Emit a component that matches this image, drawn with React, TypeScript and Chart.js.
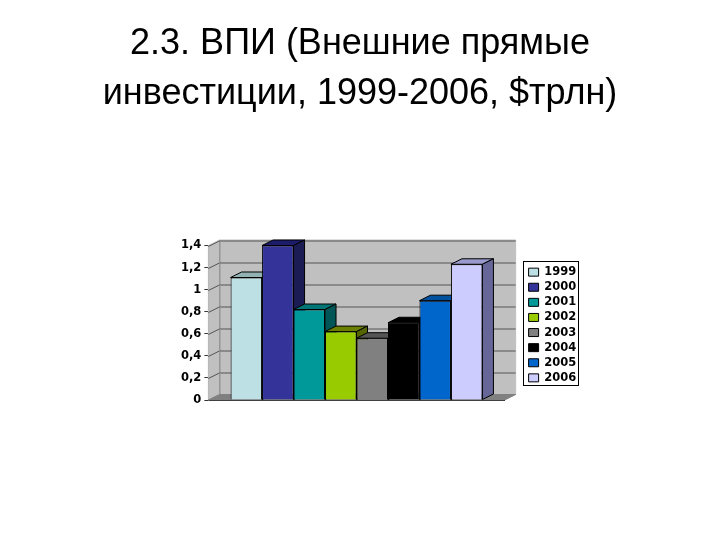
import { useEffect, useRef } from 'react';
import { Chart, registerables } from 'chart.js';
import type { Plugin } from 'chart.js';

Chart.register(...registerables);

const titleLines = ['2.3. ВПИ (Внешние прямые', 'инвестиции, 1999-2006, $трлн)'];
const years = ['1999', '2000', '2001', '2002', '2003', '2004', '2005', '2006'];
const values = [1.11, 1.4, 0.82, 0.62, 0.56, 0.7, 0.9, 1.23];

const frontColors = ['#bde0e4', '#333399', '#009999', '#99cc00', '#808080', '#000000', '#0066cc', '#ccccff'];
const topColors = ['#93b3b3', '#1c1c6b', '#007575', '#6b8000', '#555555', '#000000', '#0050a0', '#9999cc'];
const sideColors = ['#7a9a9a', '#1c1c55', '#005656', '#556600', '#444444', '#000000', '#003d80', '#666699'];

const DEPTH_X = 11;
const DEPTH_Y = -5.5;
const LABEL_FONT = 'DejaVu Sans';

const fill = (ctx: CanvasRenderingContext2D, pts: number[][], color: string, stroke = '#000000') => {
  ctx.beginPath();
  pts.forEach(([x, y], i) => (i ? ctx.lineTo(x, y) : ctx.moveTo(x, y)));
  ctx.closePath();
  ctx.fillStyle = color;
  ctx.fill();
  ctx.strokeStyle = stroke;
  ctx.lineWidth = 1;
  ctx.stroke();
};

// back wall, side wall and floor of the fake 3D box
const wallPlugin: Plugin<'bar'> = {
  id: 'wall',
  beforeDatasetsDraw(chart) {
    const { ctx, chartArea: a, scales } = chart;
    ctx.save();
    fill(ctx, [[a.left, a.top], [a.left + DEPTH_X, a.top + DEPTH_Y], [a.right + DEPTH_X, a.top + DEPTH_Y],
      [a.right + DEPTH_X, a.bottom + DEPTH_Y], [a.left + DEPTH_X, a.bottom + DEPTH_Y], [a.left, a.bottom]], '#c0c0c0', '#c0c0c0');
    fill(ctx, [[a.left, a.bottom], [a.left + DEPTH_X, a.bottom + DEPTH_Y], [a.right + DEPTH_X, a.bottom + DEPTH_Y], [a.right, a.bottom]], '#808080', '#808080');

    ctx.strokeStyle = '#555555';
    ctx.lineWidth = 1;
    scales.y.ticks.forEach((t) => {
      if (t.value === 0) return;
      const y = Math.round(scales.y.getPixelForValue(t.value)) + 0.5;
      ctx.beginPath();
      ctx.moveTo(a.left, y);
      ctx.lineTo(a.left + DEPTH_X, y + DEPTH_Y);
      ctx.lineTo(a.right + DEPTH_X, y + DEPTH_Y);
      ctx.stroke();
    });
    ctx.strokeStyle = '#808080';
    ctx.beginPath();
    ctx.moveTo(a.left + DEPTH_X + 0.5, a.top + DEPTH_Y);
    ctx.lineTo(a.left + DEPTH_X + 0.5, a.bottom + DEPTH_Y);
    ctx.stroke();

    // top and side faces, left to right, so that the next bar covers them
    chart.data.datasets.forEach((_, i) => {
      const bar: any = chart.getDatasetMeta(i).data[0];
      const half = bar.width / 2;
      const l = bar.x - half;
      const r = bar.x + half;
      const t = bar.y;
      const b = bar.base;
      fill(ctx, [[l, t], [l + DEPTH_X, t + DEPTH_Y], [r + DEPTH_X, t + DEPTH_Y], [r, t]], topColors[i]);
      fill(ctx, [[r, t], [r + DEPTH_X, t + DEPTH_Y], [r + DEPTH_X, b + DEPTH_Y], [r, b]], sideColors[i]);
    });
    ctx.restore();
  },
};

// layout padding squeezes the title and legend, so put both back where they belong
const placementPlugin: Plugin<'bar'> = {
  id: 'placement',
  afterLayout(chart) {
    const title: any = (chart as any).titleBlock;
    title.left = 0;
    title.right = 720;
    title.width = 720;

    const legend: any = chart.legend;
    legend.left = 525;
    legend.right = 580;
    legend.width = 55;
    legend.top = 260;
    legend.bottom = 390;
    legend.height = 130;
  },
  beforeDraw(chart) {
    const { ctx } = chart;
    ctx.save();
    ctx.strokeStyle = '#000000';
    ctx.lineWidth = 1;
    ctx.strokeRect(523.5, 261.5, 55, 124);
    ctx.restore();
  },
};

export default function App() {
  const chartRef = useRef<HTMLCanvasElement>(null);

  useEffect(() => {
    if (!chartRef.current) return;

    const chart = new Chart(chartRef.current, {
      type: 'bar',
      data: {
        labels: [''],
        datasets: years.map((year, i) => ({
          label: year,
          data: [values[i]],
          backgroundColor: frontColors[i],
          borderColor: '#000000',
          borderWidth: 1,
          barPercentage: 1,
          categoryPercentage: 0.85,
        })),
      },
      options: {
        animation: false,
        responsive: false,
        layout: { padding: { left: 178, right: 154, top: 0, bottom: 132 } },
        scales: {
          x: {
            ticks: { display: false },
            grid: { display: false },
            border: { color: '#000000' },
          },
          y: {
            min: 0,
            max: 1.4,
            ticks: {
              stepSize: 0.2,
              color: '#000000',
              padding: 3,
              font: { family: LABEL_FONT, size: 11.5, weight: 'bold' },
              callback: (v) => String(Math.round(Number(v) * 10) / 10).replace('.', ','),
            },
            grid: { drawOnChartArea: false, color: '#333333', tickLength: 4 },
            border: { color: '#333333' },
          },
        },
        plugins: {
          title: {
            display: true,
            text: titleLines,
            color: '#000000',
            padding: { top: 19, bottom: 126.5 },
            font: { family: 'Liberation Sans', size: 36, weight: 'normal', lineHeight: 1.389 },
          },
          legend: {
            position: 'right',
            labels: {
              boxWidth: 10,
              boxHeight: 8,
              padding: 3.6,
              color: '#000000',
              font: { family: LABEL_FONT, size: 11.5, weight: 'bold' },
            },
          },
          tooltip: { enabled: false },
        },
      },
      plugins: [wallPlugin, placementPlugin],
    });

    return () => chart.destroy();
  }, []);

  return (
    <div style={{ position: 'absolute', left: 0, top: 0, width: 720, height: 540, background: '#ffffff' }}>
      <canvas ref={chartRef} width={720} height={540} />
    </div>
  );
}
